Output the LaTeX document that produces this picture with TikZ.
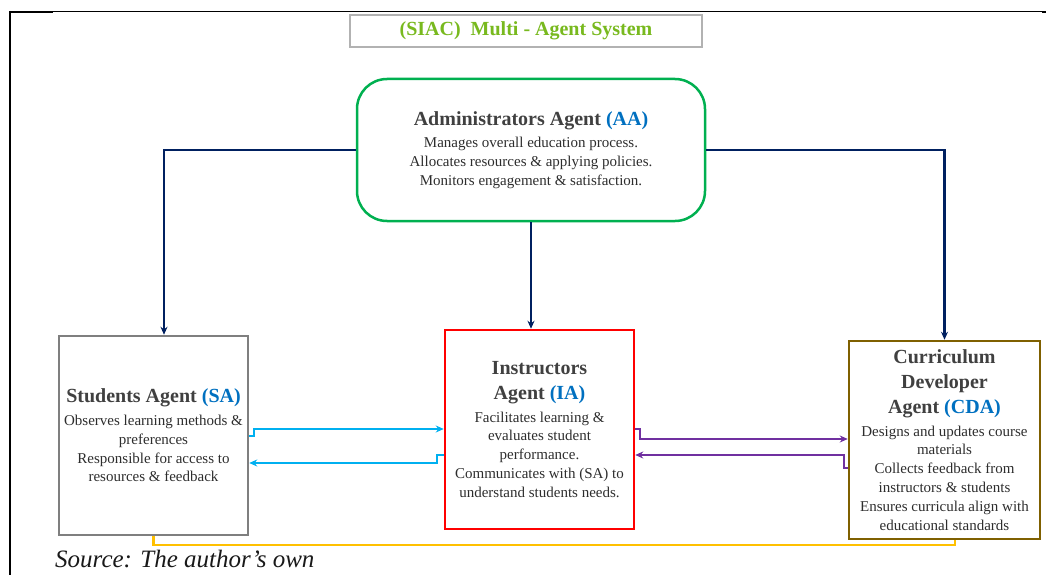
\documentclass[tikz,border=0pt]{standalone}
\usepackage{fontspec}
\setmainfont{Liberation Serif}
\usetikzlibrary{arrows.meta,calc}
\definecolor{navyc}{RGB}{0,32,96}
\definecolor{aagreen}{RGB}{0,176,80}
\definecolor{ttlgreen}{RGB}{120,185,30}
\definecolor{iared}{RGB}{255,0,0}
\definecolor{cdabrown}{RGB}{127,96,0}
\definecolor{sagray}{RGB}{127,127,127}
\definecolor{cyanc}{RGB}{0,176,240}
\definecolor{purplec}{RGB}{112,48,160}
\definecolor{yellowc}{RGB}{255,192,0}
\definecolor{abbrc}{RGB}{0,112,192}
\definecolor{titlec}{RGB}{64,64,64}
\definecolor{bodyc}{RGB}{45,45,45}
\newcommand{\ttl}[1]{{\fontsize{20}{25}\selectfont\bfseries\color{titlec}#1}}
\newcommand{\abr}[1]{\textcolor{abbrc}{#1}}
\begin{document}
\begin{tikzpicture}[x=1pt,y=-1pt,
  agent/.style={draw, rectangle, line width=2.5pt, align=center, text=bodyc,
    font=\fontsize{15}{18.8}\selectfont, inner sep=0pt},
  tip/.style={-{Stealth[length=8pt,width=7pt]}},
  navyarrow/.style={draw=navyc, line width=2.2pt, tip},
  cyanarrow/.style={draw=cyanc, line width=2.2pt, tip},
  purplearrow/.style={draw=purplec, line width=2.2pt, tip},
  yellowline/.style={draw=yellowc, line width=2.2pt}]
\useasboundingbox (0,0) rectangle (1046,575);
\clip (0,0) rectangle (1046,575);
% outer frame
\draw[line width=1pt] (10,12) -- (1046,12);
\draw[line width=2pt] (9,12) -- (53,12);
\draw[line width=2pt] (10,11) -- (10,575);
\draw[line width=2pt] (1042,12) -- (1046,12);
% title
\node[draw=gray!60, line width=1.3pt, minimum width=352pt, minimum height=32pt, inner sep=0pt,
  font=\fontsize{20}{24}\selectfont\bfseries, text=ttlgreen] (title) at (526,31) {(SIAC)\ \ Multi - Agent System};
% agents
\node[agent, draw=aagreen, rounded corners=30pt, minimum width=348pt, minimum height=142pt] (AA) at (531,150)
 {\ttl{Administrators Agent \abr{(AA)}}\\[4pt] Manages overall education process.\\ Allocates resources \& applying policies.\\ Monitors engagement \& satisfaction.};
\node[agent, draw=sagray, minimum width=189pt, minimum height=199pt] (SA) at (153.5,435.5)
 {\ttl{Students Agent \abr{(SA)}}\\[4pt] Observes learning methods \&\\ preferences\\ Responsible for access to\\ resources \& feedback};
\node[agent, draw=iared, minimum width=189pt, minimum height=199pt] (IA) at (539.5,429.5)
 {\ttl{Instructors}\\[6pt]\ttl{Agent \abr{(IA)}}\\[4pt] Facilitates learning \&\\ evaluates student\\ performance.\\ Communicates with (SA) to\\ understand students needs.};
\node[agent, draw=cdabrown, minimum width=191pt, minimum height=198pt] (CDA) at (944.5,440)
 {\ttl{Curriculum}\\[6pt]\ttl{Developer}\\[6pt]\ttl{Agent \abr{(CDA)}}\\[4pt] Designs and updates course\\ materials\\ Collects feedback from\\ instructors \& students\\ Ensures curricula align with\\ educational standards};
% connectors
\draw[navyarrow] (AA.west) -| ([xshift=10.5pt]SA.north);
\draw[navyarrow] (AA.east) -| (CDA.north);
\draw[navyarrow] (AA.south) -- (AA.south |- IA.north);
\draw[cyanarrow] (SA.east |- 0,436) -- ++(5,0) |- (IA.west |- 0,429);
\draw[cyanarrow] (IA.west |- 0,455) -- ++(-7,0) |- (SA.east |- 0,463);
\draw[purplearrow] (IA.east |- 0,429) -- ++(5,0) |- (CDA.west |- 0,439);
\draw[purplearrow] (CDA.west |- 0,468) -- ++(-4,0) |- (IA.east |- 0,455);
\coordinate (ycorner) at (955,545);
\draw[yellowline] (SA.south) |- (ycorner) -- (ycorner |- CDA.south);
% source
\node[anchor=base west, inner sep=0pt, font=\fontsize{25}{29}\selectfont\itshape, text=black!90] (src) at (55,567) {Source: The author’s own};
\end{tikzpicture}
\end{document}
